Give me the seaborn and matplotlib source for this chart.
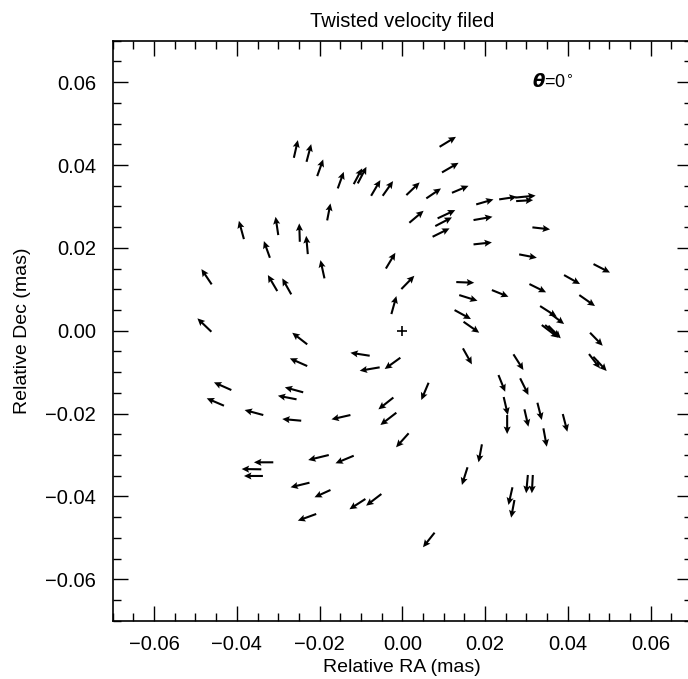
import numpy as np
import pandas as pd
import matplotlib
matplotlib.use("Agg")
import matplotlib.pyplot as plt
import seaborn as sns
from matplotlib.ticker import MultipleLocator, FuncFormatter

# Tail positions (micro-arcsec) and displacement vectors (micro-arcsec)
ra_uas = [-26.22, -23.16, -20.58, -18.17, -38.29, -29.99, -24.78, -22.85, -32.01, -18.82,
          -15.61, -11.75, -10.78, -7.55, -4.75, 0.97, 5.79, 11.99, 9.00, 9.58,
          1.69, 8.52, 7.96, 7.31, -3.98, 17.85, 23.40, 27.26, 27.50, 17.20,
          31.43, 17.20, 28.23, 46.20, -46.08, -30.23, -26.85, -46.15, -22.99, -22.99,
          -41.33, -23.96, -25.57, -43.11, -33.61, -24.44, -31.19, -34.09, -33.70, -17.78,
          -22.44, -17.37, -20.82, -0.24, -2.65, -7.89, -0.48, -5.48, 6.34, -2.17,
          13.03, 13.75, 21.64, 30.71, 39.08, 42.77, 12.62, 14.79, 33.29, 35.71,
          33.70, 34.50, 35.29, 45.36, 45.11, 46.15, 14.64, 26.85, 23.23, 28.47,
          24.49, 25.33, 29.50, 32.64, 38.77, 34.09, 19.23, 15.75, 30.33, 31.53,
          26.61, 27.09, -12.55, -1.45, 1.52, -11.75, -8.93, -5.07, 7.79]
dec_uas = [41.74, 40.77, 37.32, 26.63, 22.12, 23.09, 21.47, 18.50, 17.61, 12.64,
           34.35, 35.39, 35.56, 32.57, 32.57, 32.74, 31.94, 33.29, 44.39, 38.21,
           26.06, 27.12, 25.26, 22.68, 15.01, 30.49, 31.70, 32.13, 31.29, 26.71,
           24.95, 20.84, 18.43, 16.09, 11.19, 9.58, 8.78, -0.24, -3.28, -8.52,
           -14.31, -14.86, -16.55, -18.09, -20.34, -21.71, -31.75, -33.44, -35.05, -29.99,
           -36.67, -38.43, -44.22, 10.06, 4.03, -6.03, -6.51, -8.83, -12.55, -16.12,
           11.75, 8.61, 9.82, 11.27, 13.44, 8.61, 4.99, 2.17, 5.96, 4.20,
           1.38, 1.38, 1.21, -0.48, -5.62, -6.27, -4.25, -5.69, -10.69, -11.48,
           -15.99, -20.34, -18.96, -17.37, -20.10, -23.55, -27.41, -32.95, -34.81, -34.81,
           -37.78, -40.84, -20.34, -19.78, -24.75, -30.16, -40.60, -39.40, -48.73]
vra_uas = [0.97, 1.13, 1.45, 0.80, -1.21, -0.65, -0.14, -0.39, -1.45, -0.97,
           1.45, 2.03, 2.10, 2.24, 2.51, 3.21, 3.55, 4.00, 3.96, 4.00,
           3.45, 4.27, 4.03, 4.10, 2.29, 4.17, 4.27, 4.95, 4.10, 4.58,
           4.27, 4.44, 4.27, 3.98, -2.48, -2.27, -2.17, -3.38, -3.62, -4.20,
           -4.20, -4.44, -4.51, -4.17, -4.51, -4.58, -4.68, -4.75, -4.58, -4.97,
           -4.58, -3.86, -4.44, 3.14, 1.21, -4.66, -3.79, -4.83, -1.76, -3.62,
           4.34, 4.41, 4.00, 4.03, 3.86, 3.79, 3.96, 3.79, 4.03, 3.38,
           4.00, 3.62, 2.99, 3.06, 2.65, 3.23, 2.17, 2.41, 1.62, 2.00,
           1.01, 0.00, 0.97, 1.06, 1.11, 0.82, -0.82, -1.35, -0.41, -0.24,
           -0.97, -0.80, -4.58, -3.86, -3.04, -4.41, -3.86, -3.69, -2.80]
vdec_uas = [4.27, 4.27, 4.03, 4.10, 4.41, 4.41, 4.44, 4.41, 4.03, 4.41,
            4.00, 3.79, 4.00, 3.79, 3.55, 3.06, 2.41, 1.69, 2.41, 2.32,
            2.90, 2.00, 2.10, 2.03, 3.81, 1.21, 0.63, 0.48, 0.24, 0.80,
            -0.48, 0.48, -0.82, -2.05, 3.69, 3.86, 3.86, 3.23, 2.80, 1.86,
            1.86, 1.21, 0.87, 1.79, 1.21, 0.41, 0.00, 0.07, 0.00, -1.21,
            -1.11, -1.76, -1.62, 3.21, 4.34, 0.72, -2.73, -0.82, -4.17, -2.85,
            -0.17, -1.38, -1.62, -2.00, -2.17, -2.65, -2.17, -2.65, -2.58, -2.58,
            -3.06, -2.97, -3.04, -3.14, -3.45, -3.45, -3.86, -3.79, -4.03, -4.03,
            -4.34, -4.58, -4.20, -4.17, -4.27, -4.44, -4.34, -4.27, -4.41, -4.41,
            -4.27, -4.27, -1.04, -2.97, -3.38, -1.83, -2.48, -2.82, -3.52]

xticks = [-0.06, -0.04, -0.02, 0.00, 0.02, 0.04, 0.06]
yticks = [-0.06, -0.04, -0.02, 0.00, 0.02, 0.04, 0.06]

df = pd.DataFrame({
    "ra": np.array(ra_uas) * 1e-3,
    "dec": np.array(dec_uas) * 1e-3,
    "vra": np.array(vra_uas) * 1e-3,
    "vdec": np.array(vdec_uas) * 1e-3,
})

sns.set_theme(style="ticks")
plt.rcParams["font.family"] = ["Liberation Sans", "DejaVu Sans"]
plt.rcParams["text.color"] = "black"
plt.rcParams["axes.labelcolor"] = "black"
plt.rcParams["xtick.color"] = "black"
plt.rcParams["ytick.color"] = "black"

fig = plt.figure(figsize=(6.88, 6.79), dpi=100)
ax = fig.add_axes([112.7 / 688, 58.2 / 679, (692 - 112.7) / 688, (620.8 - 40.7) / 679])

ax.quiver(df["ra"], df["dec"], df["vra"], df["vdec"], angles="xy", scale_units="xy",
          scale=1, pivot="tail", color="black", width=0.0036, headwidth=3.4,
          headlength=3.6, headaxislength=3.1)

sns.scatterplot(x=[0.0], y=[0.0], marker="+", s=60, color="black", linewidth=1.2, ax=ax)

ax.set_xlim(-0.07, 0.07)
ax.set_ylim(-0.07, 0.07)
ax.set_xticks(xticks)
ax.set_yticks(yticks)
ax.xaxis.set_minor_locator(MultipleLocator(0.005))
ax.yaxis.set_minor_locator(MultipleLocator(0.005))
fmt = FuncFormatter(lambda v, p: ("%.2f" % v).replace("-", "\u2212") if abs(v) > 1e-9 else "0.00")
ax.xaxis.set_major_formatter(fmt)
ax.yaxis.set_major_formatter(fmt)
ax.tick_params(which="both", direction="in", top=True, right=True, colors="black",
               labelsize=14.5, width=1.0)
ax.tick_params(which="major", length=11)
ax.tick_params(which="minor", length=5.5)
ax.tick_params(axis="x", pad=10)
ax.tick_params(axis="y", pad=12)
for sp in ax.spines.values():
    sp.set_linewidth(1.2)
    sp.set_color("black")

ax.set_xlabel("Relative RA (mas)", fontsize=14, labelpad=4, color="black")
ax.set_ylabel("Relative Dec (mas)", fontsize=14, labelpad=10, color="black")
ax.set_title("Twisted velocity filed", fontsize=14.5, pad=10, color="black")

ax.text(0.0313, 0.0600, r"$\boldsymbol{\theta}$=0$^{\circ}$", fontsize=13,
        ha="left", va="center", color="black")

fig.savefig("out.png", dpi=100)
